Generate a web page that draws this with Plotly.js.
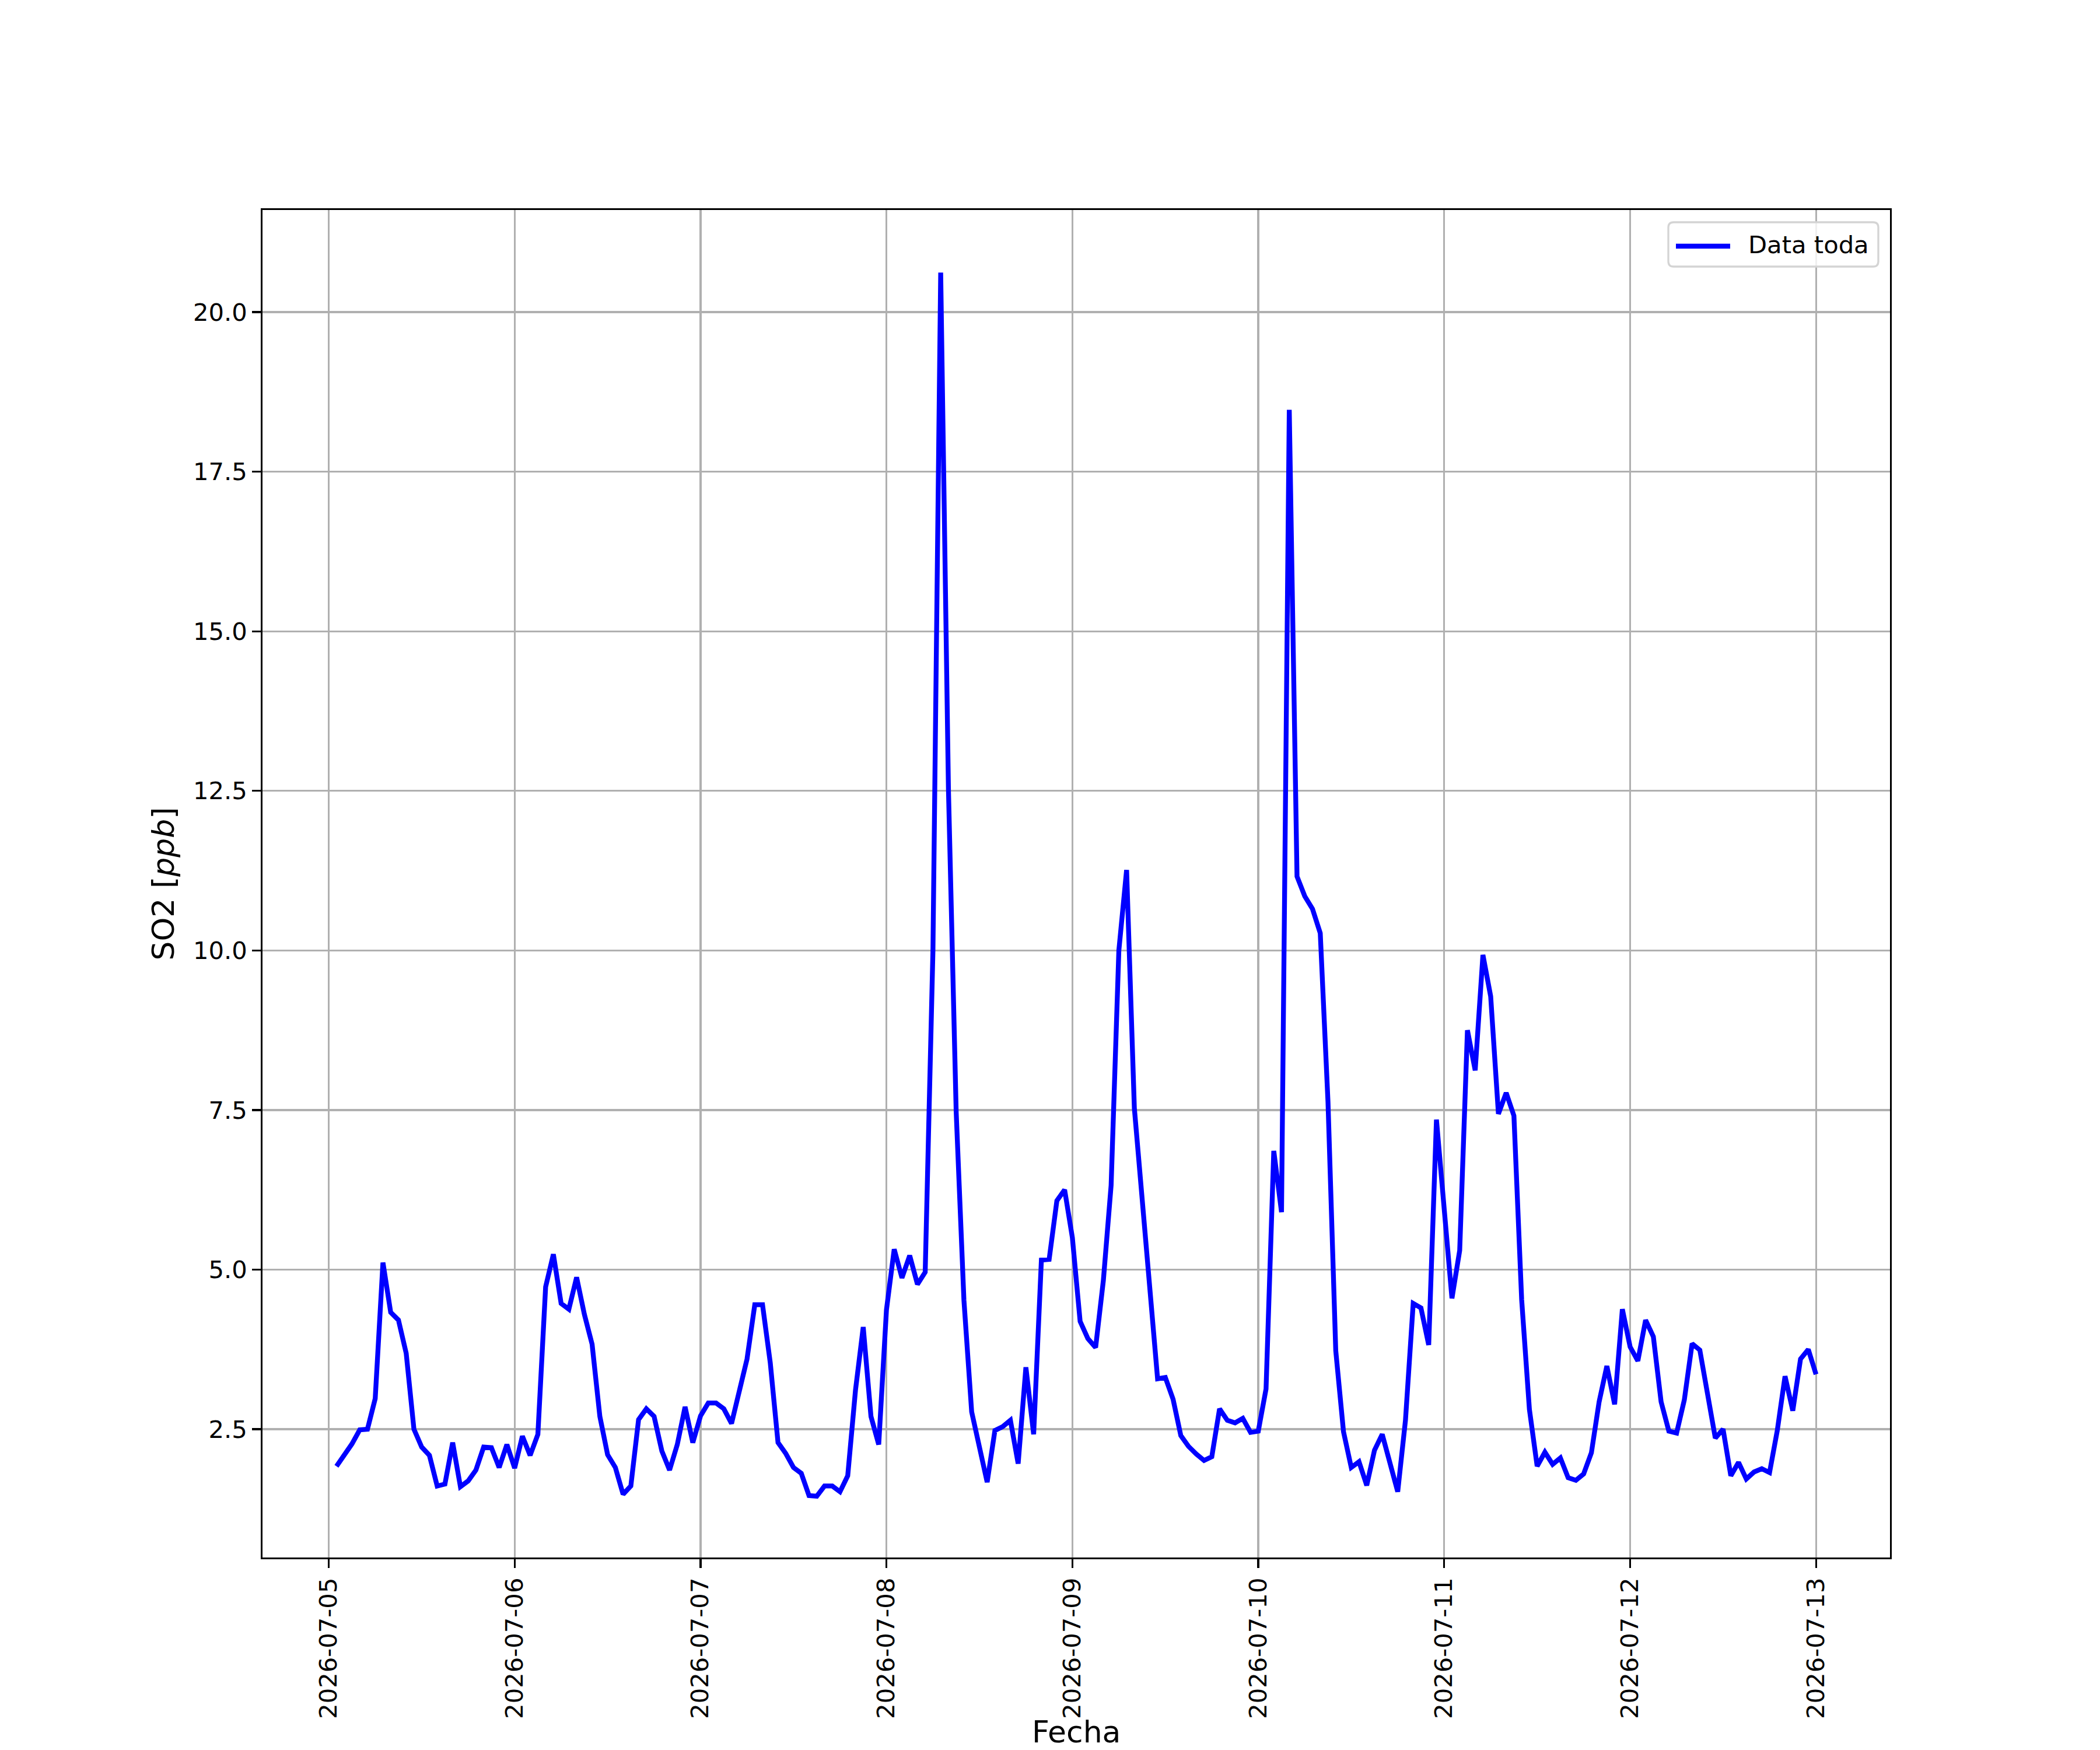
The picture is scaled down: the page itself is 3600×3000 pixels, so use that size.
<!DOCTYPE html>
<html>
<head>
<meta charset="utf-8">
<script src="https://cdn.plot.ly/plotly-3.0.1.min.js"></script>
<style>html,body{margin:0;padding:0;background:#fff;}</style>
</head>
<body>
<div id="chart" style="width:3600px;height:3000px;"></div>
<script>
// Hourly SO2 values (ppb), hours 01:00..24:00 of each day
const day0705 = [1.92, 2.10, 2.27, 2.49, 2.50, 2.98, 5.11, 4.33, 4.21, 3.69, 2.50, 2.22, 2.09, 1.61, 1.64, 2.29, 1.60, 1.69, 1.86, 2.22, 2.21, 1.90, 2.26, 1.89];
const day0706 = [2.39, 2.09, 2.42, 4.73, 5.24, 4.47, 4.38, 4.88, 4.30, 3.83, 2.70, 2.10, 1.90, 1.48, 1.61, 2.65, 2.82, 2.70, 2.16, 1.86, 2.26, 2.85, 2.29, 2.71];
const day0707 = [2.91, 2.91, 2.82, 2.59, 3.07, 3.60, 4.45, 4.45, 3.54, 2.29, 2.12, 1.90, 1.81, 1.46, 1.45, 1.61, 1.61, 1.52, 1.77, 3.11, 4.10, 2.70, 2.26, 4.37];
const day0708 = [5.32, 4.87, 5.22, 4.77, 4.96, 10.0, 20.62, 12.53, 7.47, 4.52, 2.77, 2.19, 1.67, 2.48, 2.54, 2.64, 1.96, 3.47, 2.42, 5.15, 5.16, 6.08, 6.25, 5.50];
const day0709 = [4.19, 3.92, 3.78, 4.83, 6.32, 10.0, 11.26, 7.53, 6.15, 4.63, 3.29, 3.31, 2.97, 2.40, 2.23, 2.11, 2.01, 2.07, 2.82, 2.64, 2.60, 2.67, 2.45, 2.47];
const day0710 = [3.13, 6.86, 5.90, 18.47, 11.16, 10.85, 10.65, 10.27, 7.62, 3.73, 2.46, 1.90, 1.99, 1.62, 2.17, 2.42, 1.96, 1.52, 2.64, 4.47, 4.40, 3.82, 7.35, 5.93];
const day0711 = [4.55, 5.30, 8.75, 8.12, 9.93, 9.28, 7.44, 7.77, 7.41, 4.53, 2.81, 1.92, 2.14, 1.95, 2.05, 1.74, 1.70, 1.80, 2.13, 2.93, 3.49, 2.89, 4.38, 3.79];
const day0712 = [3.57, 4.21, 3.95, 2.93, 2.47, 2.44, 2.96, 3.84, 3.74, 3.05, 2.36, 2.50, 1.77, 1.98, 1.72, 1.83, 1.88, 1.82, 2.48, 3.33, 2.79, 3.60, 3.75, 3.36];

const so2 = [].concat(day0705, day0706, day0707, day0708, day0709, day0710, day0711, day0712);
const startTime = '2026-07-05T01:00:00Z';
const dayTicks = ['2026-07-05','2026-07-06','2026-07-07','2026-07-08','2026-07-09','2026-07-10','2026-07-11','2026-07-12','2026-07-13'];
const seriesName = 'Data toda';
const xLabel = 'Fecha';
const yLabel = 'SO2 [<i>ppb</i>]';
const yTicks = [2.5, 5.0, 7.5, 10.0, 12.5, 15.0, 17.5, 20.0];

function pad(n){return (n<10?'0':'')+n;}
const t0 = Date.parse(startTime);
const times = so2.map((_, i) => {
  const d = new Date(t0 + i * 3600000);
  return d.getUTCFullYear() + '-' + pad(d.getUTCMonth()+1) + '-' + pad(d.getUTCDate()) + ' ' + pad(d.getUTCHours()) + ':00:00';
});

const W = 3600, H = 3000;
const L = 450, R = 3240, T = 360, B = 2670;
const px = x => (x - L) / (R - L);
const py = y => (B - y) / (B - T);

const FONT = 'DejaVu Sans, Liberation Sans, sans-serif';
const tickFont = {family: FONT, size: 41.7, color: '#000'};
const labelFont = {family: FONT, size: 52, color: '#000'};

const trace = {
  x: times, y: so2, type: 'scatter', mode: 'lines', name: seriesName,
  line: {color: '#0000ff', width: 8.3}, showlegend: false
};

// legend box (rounded rect) in paper coordinates
const bx0 = 2860, bx1 = 3220, by0 = 381, by1 = 457, rr = 9;
function P(x, y){ return px(x).toFixed(5) + ',' + py(y).toFixed(5); }
const legendPath = 'M' + P(bx0+rr, by0) + ' L' + P(bx1-rr, by0) + ' Q' + P(bx1, by0) + ' ' + P(bx1, by0+rr) +
  ' L' + P(bx1, by1-rr) + ' Q' + P(bx1, by1) + ' ' + P(bx1-rr, by1) +
  ' L' + P(bx0+rr, by1) + ' Q' + P(bx0, by1) + ' ' + P(bx0, by1-rr) +
  ' L' + P(bx0, by0+rr) + ' Q' + P(bx0, by0) + ' ' + P(bx0+rr, by0) + ' Z';

const layout = {
  width: W, height: H,
  margin: {l: L, r: W - R, t: T, b: H - B, pad: 0},
  paper_bgcolor: '#fff', plot_bgcolor: '#fff',
  showlegend: false,
  xaxis: {
    type: 'date',
    range: ['2026-07-04 15:27:00', '2026-07-13 09:33:00'],
    tickvals: dayTicks, ticktext: dayTicks,
    tickangle: -90, tickfont: tickFont,
    ticks: 'outside', ticklen: 14.6, tickwidth: 3.3, tickcolor: '#000',
    showgrid: true, gridcolor: '#b0b0b0', gridwidth: 3.3,
    showline: true, linecolor: '#000', linewidth: 3.3, mirror: true,
    zeroline: false, automargin: false
  },
  yaxis: {
    range: [0.49, 21.6],
    tickvals: yTicks, ticktext: yTicks.map(v => v.toFixed(1)),
    tickfont: tickFont,
    ticks: 'outside', ticklen: 14.6, tickwidth: 3.3, tickcolor: '#000',
    showgrid: true, gridcolor: '#b0b0b0', gridwidth: 3.3,
    showline: true, linecolor: '#000', linewidth: 3.3, mirror: true,
    zeroline: false, automargin: false,
    title: {text: yLabel, font: labelFont, standoff: 16}
  },
  shapes: [
    {type: 'path', xref: 'paper', yref: 'paper', path: legendPath,
     fillcolor: 'rgba(255,255,255,0.8)', line: {color: '#d4d4d4', width: 3.3}, layer: 'above'},
    {type: 'line', xref: 'paper', yref: 'paper', x0: px(2873), x1: px(2966), y0: py(422), y1: py(422),
     line: {color: '#0000ff', width: 8.3}, layer: 'above'}
  ],
  annotations: [
    {xref: 'paper', yref: 'paper', x: px(2995), y: py(419), xanchor: 'left', yanchor: 'middle',
     text: seriesName, showarrow: false, font: tickFont},
    {xref: 'paper', yref: 'paper', x: 0.5, y: py(3000), xanchor: 'center', yanchor: 'bottom',
     borderpad: 0, text: xLabel, showarrow: false, font: labelFont}
  ]
};

Plotly.newPlot('chart', [trace], layout, {staticPlot: true, displayModeBar: false});
</script>
</body>
</html>
